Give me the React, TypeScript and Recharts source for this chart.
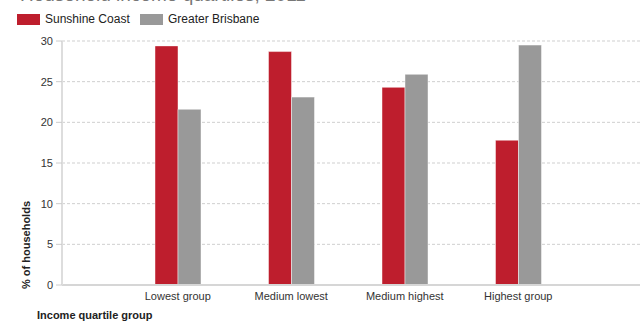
import { BarChart, Bar, XAxis, YAxis, CartesianGrid } from "recharts";

const QUARTILES = ["Lowest group", "Medium lowest", "Medium highest", "Highest group"];
const SUNSHINE_COAST = [29.4, 28.7, 24.3, 17.8];
const GREATER_BRISBANE = [21.6, 23.1, 25.9, 29.5];
const Y_TICKS = [0, 5, 10, 15, 20, 25, 30];

const RED = "#be1e2d";
const GREY = "#999999";
const FONT = "'Liberation Sans', Arial, sans-serif";

const data = QUARTILES.map((name, i) => ({
  name,
  sunshine: SUNSHINE_COAST[i],
  brisbane: GREATER_BRISBANE[i],
}));

function LegendRow() {
  const item = (color: string, label: string, left: number) => (
    <div style={{ position: "absolute", left, top: 12, display: "flex", alignItems: "center" }}>
      <div style={{ width: 23, height: 11, background: color, marginRight: 5 }} />
      <span style={{ fontSize: 12, color: "#222" }}>{label}</span>
    </div>
  );
  return (
    <>
      {item(RED, "Sunshine Coast", 17)}
      {item(GREY, "Greater Brisbane", 140)}
    </>
  );
}

export default function App() {
  return (
    <div
      style={{
        position: "absolute",
        left: 0,
        top: 0,
        width: 642,
        height: 322,
        overflow: "hidden",
        background: "#fff",
        fontFamily: FONT,
      }}
    >
      {/* heading sits mostly above the visible area */}
      <div
        style={{
          position: "absolute",
          left: 20,
          top: -16,
          fontSize: 19,
          color: "#777",
          whiteSpace: "nowrap",
        }}
      >
        Household income quartiles, 2011
      </div>
      <LegendRow />
      <BarChart
        width={642}
        height={322}
        data={data}
        margin={{ top: 41, right: 2, bottom: 0, left: 0 }}
        barGap={0}
        barSize={23}
      >
        <CartesianGrid vertical={false} stroke="#cfcfcf" strokeDasharray="3 2" />
        <XAxis
          dataKey="name"
          height={37}
          padding={{ left: 59, right: 65 }}
          tickLine={false}
          axisLine={{ stroke: "#d6d6d6", strokeWidth: 2 }}
          tick={{ fontSize: 11, fill: "#333", fontFamily: FONT }}
          tickMargin={1}
          interval={0}
        />
        <YAxis
          width={62}
          domain={[0, 30]}
          ticks={Y_TICKS}
          interval={0}
          axisLine={{ stroke: "#dddddd", strokeWidth: 2 }}
          tickLine={{ stroke: "#cccccc" }}
          tickSize={6}
          tickMargin={3}
          tick={{ fontSize: 11, fill: "#333", fontFamily: FONT }}
        />
        <Bar
          dataKey="sunshine"
          fill={RED}
          stroke="rgba(255,255,255,0.45)"
          isAnimationActive={false}
        />
        <Bar
          dataKey="brisbane"
          fill={GREY}
          stroke="rgba(255,255,255,0.45)"
          isAnimationActive={false}
        />
      </BarChart>
      <div
        style={{
          position: "absolute",
          left: 26,
          top: 245,
          transform: "translate(-50%, -50%) rotate(-90deg)",
          fontSize: 11,
          fontWeight: "bold",
          color: "#222",
          whiteSpace: "nowrap",
        }}
      >
        % of households
      </div>
      <div
        style={{
          position: "absolute",
          left: 37,
          top: 309,
          fontSize: 11,
          fontWeight: "bold",
          color: "#222",
          whiteSpace: "nowrap",
        }}
      >
        Income quartile group
      </div>
    </div>
  );
}
